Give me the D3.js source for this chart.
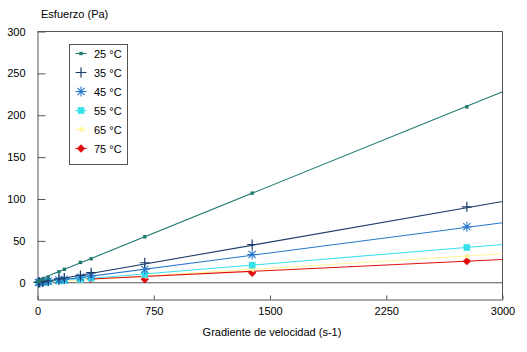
<!DOCTYPE html>
<html><head><meta charset="utf-8">
<script src="https://cdn.jsdelivr.net/npm/d3@7"></script>
<style>
html,body{margin:0;padding:0;background:#fff;}
text{font-family:"Liberation Sans",Arial,sans-serif;font-size:11px;fill:#000;}
</style></head>
<body>
<svg id="c" width="527" height="352"></svg>
<script>
// ---- data ----
const seriesNames = ["25 °C", "35 °C", "45 °C", "55 °C", "65 °C", "75 °C"];
const seriesColors = ["#1e7a70", "#1c3c6c", "#2a78cc", "#38e0ec", "#fff59a", "#e01010"];
const seriesMarkers = ["smallsquare", "plus", "star", "square", "dash", "diamond"];
const shear = [7, 14, 35, 69, 138, 173, 277, 346, 692, 1385, 2770];
const shear75 = [346, 692, 1385, 2770];
const s25 = [1.2, 2, 4, 6.5, 13, 16, 24.3, 28.6, 54.9, 107, 210];
const s35 = [0.4, 0.7, 1.3, 2.4, 4.7, 5.8, 8.7, 12, 23.9, 45.7, 90.7];
const s45 = [0.3, 0.5, 1, 1.8, 3.4, 4.2, 6.6, 8.2, 15.9, 33.8, 66.8];
const s55 = [0.2, 0.3, 0.6, 1.1, 2.1, 2.6, 4.2, 5.4, 9.9, 21, 42.1];
const s65 = [0.1, 0.2, 0.4, 0.8, 1.5, 1.9, 3.1, 3.9, 7.8, 15.8, 31.5];
const s75 = [4.5, 4.2, 11.9, 25.8];
// trend lines: [x0, y0, x1, y1]
const trends = [
  [0, 3, 3000, 228],
  [0, 0, 3000, 97],
  [0, -0.5, 3000, 71.6],
  [0, 0, 3000, 45.7],
  [0, 0, 3000, 34.6],
  [346, 4.5, 3000, 27.8]
];
const xTicks = [0, 750, 1500, 2250, 3000];
const yTicks = [0, 50, 100, 150, 200, 250, 300];
const yTitle = "Esfuerzo (Pa)";
const xTitle = "Gradiente de velocidad (s-1)";

const series = [
  {x: shear, y: s25}, {x: shear, y: s35}, {x: shear, y: s45},
  {x: shear, y: s55}, {x: shear, y: s65}, {x: shear75, y: s75}
];

// ---- layout ----
const svg = d3.select("#c");
const L = 37.5, R = 502.5, T = 31.5, B = 299.5;
const x = d3.scaleLinear().domain([0, 3000]).range([L, R]);
const y = d3.scaleLinear().domain([-20, 300]).range([B, T]);
const axisColor = "#555";

// zero line
svg.append("line").attr("x1", L).attr("x2", R).attr("y1", y(0)).attr("y2", y(0))
  .attr("stroke", axisColor).attr("stroke-width", 1);

// axes
const gx = svg.append("g").attr("transform", `translate(0,${B})`)
  .call(d3.axisBottom(x).tickValues(xTicks).tickSizeInner(-4).tickSizeOuter(0).tickPadding(8).tickFormat(d3.format("d")));
const gy = svg.append("g").attr("transform", `translate(${L},0)`)
  .call(d3.axisLeft(y).tickValues(yTicks).tickSizeInner(-8).tickSizeOuter(0).tickPadding(12).tickFormat(d3.format("d")));
[gx, gy].forEach(g => {
  g.selectAll("path,line").attr("stroke", axisColor);
  g.selectAll("text").style("font-family", '"Liberation Sans",Arial,sans-serif').style("font-size", "11px").attr("fill", "#000");
});
gy.selectAll(".tick line").attr("x2", 8);
gx.selectAll(".tick line").attr("y2", -4);
// frame top/right
svg.append("line").attr("x1", L).attr("x2", R).attr("y1", T).attr("y2", T).attr("stroke", axisColor);
svg.append("line").attr("x1", R).attr("x2", R).attr("y1", T).attr("y2", B).attr("stroke", axisColor);

// titles
svg.append("text").attr("x", 41).attr("y", 18).text(yTitle);
svg.append("text").attr("x", 272).attr("y", 336).attr("text-anchor", "middle").text(xTitle);

// markers
function drawMarker(g, type, cx, cy, color) {
  switch (type) {
    case "smallsquare":
      g.append("rect").attr("x", cx - 1.7).attr("y", cy - 1.7).attr("width", 3.4).attr("height", 3.4).attr("fill", color);
      break;
    case "plus":
      g.append("path").attr("d", `M${cx-5},${cy}H${cx+5}M${cx},${cy-5}V${cy+5}`).attr("stroke", color).attr("stroke-width", 1.2).attr("fill", "none");
      break;
    case "star":
      g.append("path").attr("d", `M${cx-5},${cy}H${cx+5}M${cx},${cy-5}V${cy+5}M${cx-3.6},${cy-3.6}L${cx+3.6},${cy+3.6}M${cx-3.6},${cy+3.6}L${cx+3.6},${cy-3.6}`).attr("stroke", color).attr("stroke-width", 1.1).attr("fill", "none");
      break;
    case "square":
      g.append("rect").attr("x", cx - 3.3).attr("y", cy - 3.3).attr("width", 6.6).attr("height", 6.6).attr("fill", color);
      break;
    case "dash":
      g.append("path").attr("d", `M${cx-4},${cy}L${cx+2},${cy-3}L${cx+2},${cy+3}Z`).attr("fill", color);
      break;
    case "diamond":
      g.append("path").attr("d", `M${cx},${cy-4.2}L${cx+4.2},${cy}L${cx},${cy+4.2}L${cx-4.2},${cy}Z`).attr("fill", color);
      break;
  }
}

// trend lines
const lineGen = d3.line().x(d => x(d[0])).y(d => y(d[1]));
const plot = svg.append("g");
trends.forEach((t, i) => {
  plot.append("path").attr("d", lineGen([[t[0], t[1]], [t[2], t[3]]]))
    .attr("stroke", seriesColors[i]).attr("stroke-width", 1.1).attr("fill", "none");
});
// points (draw later series first so the 25 °C series is on top)
for (let i = series.length - 1; i >= 0; i--) {
  const s = series[i];
  const g = plot.append("g");
  s.x.forEach((xv, k) => drawMarker(g, seriesMarkers[i], x(xv), y(s.y[k]), seriesColors[i]));
}

// legend
const lg = svg.append("g");
lg.append("rect").attr("x", 69.5).attr("y", 44.5).attr("width", 58).attr("height", 120)
  .attr("fill", "#fff").attr("stroke", axisColor).attr("stroke-width", 1);
seriesNames.forEach((n, i) => {
  const cy = 53.5 + i * 19;
  lg.append("line").attr("x1", 75.5).attr("x2", 86.5).attr("y1", cy).attr("y2", cy)
    .attr("stroke", seriesColors[i]).attr("stroke-width", 1.1);
  drawMarker(lg, seriesMarkers[i], 81, cy, seriesColors[i]);
  lg.append("text").attr("x", 94).attr("y", cy + 4).text(n);
});
</script>
</body></html>
